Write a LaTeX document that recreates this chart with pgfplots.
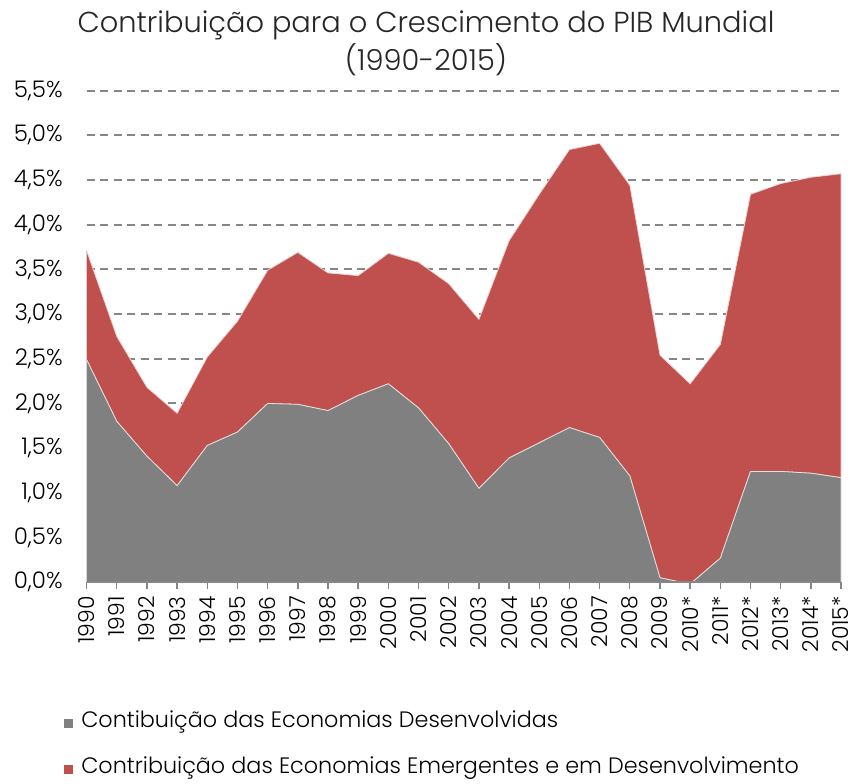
\documentclass[border=0pt]{standalone}
\usepackage{fontspec}
\IfFontExistsTF{Poppins Light}{\setmainfont{Poppins Light}}{\setmainfont{Poppins}}
\usepackage{pgfplots}
\pgfplotsset{compat=1.18}
\definecolor{devgray}{HTML}{808080}
\definecolor{emred}{HTML}{C0504D}
\definecolor{gridgray}{HTML}{868686}

% contribution (percentage points) by year
\pgfplotstableread{
year dev em
1990 2.49 1.22
1991 1.80 0.95
1992 1.41 0.77
1993 1.08 0.81
1994 1.53 0.99
1995 1.68 1.24
1996 2.00 1.49
1997 1.99 1.70
1998 1.92 1.54
1999 2.09 1.34
2000 2.22 1.46
2001 1.95 1.63
2002 1.55 1.79
2003 1.05 1.89
2004 1.39 2.43
2005 1.56 2.78
2006 1.73 3.11
2007 1.62 3.29
2008 1.19 3.25
2009 0.05 2.49
2010 -0.02 2.24
2011 0.27 2.39
2012 1.24 3.10
2013 1.24 3.22
2014 1.22 3.31
2015 1.17 3.40
}\gdp

\begin{document}
\begin{tikzpicture}
% background axis: only the dashed gridlines, so the areas drawn later cover them
\begin{axis}[
  scale only axis,
  width=379pt, height=247pt,
  xmin=1990, xmax=2015,
  ymin=0, ymax=5.5,
  xtick=\empty,
  ytick={0,0.5,...,5.5},
  yticklabels={},
  axis line style={draw=none},
  tick style={draw=none},
  ymajorgrids,
  grid style={draw=gridgray, line width=1pt, dash pattern=on 4pt off 2.8pt},
]
\end{axis}
\begin{axis}[
  name=ax,
  scale only axis,
  width=379pt, height=247pt,
  stack plots=y,
  xmin=1990, xmax=2015,
  ymin=0, ymax=5.5,
  enlarge x limits=false,
  xtick={1990,...,2015},
  xticklabels={1990,1991,1992,1993,1994,1995,1996,1997,1998,1999,2000,2001,2002,2003,2004,2005,2006,2007,2008,2009,2010*,2011*,2012*,2013*,2014*,2015*},
  x tick label style={rotate=90, anchor=east, font=\fontsize{11}{13}\selectfont},
  ytick={0,0.5,...,5.5},
  yticklabel={\pgfmathprintnumber[fixed,fixed zerofill,precision=1,use comma]{\tick}\%},
  y tick label style={font=\fontsize{11.5}{13}\selectfont, xshift=-5pt},
  /pgf/number format/assume math mode=true,
  axis x line*=bottom,
  axis y line*=left,
  x axis line style={draw=gridgray, line width=1pt, -},
  y axis line style={draw=none},
  tick align=outside,
  major tick length=3.5pt,
  xtick style={draw=gridgray, line width=0.7pt},
  ytick style={draw=none},
  legend style={at={(-0.030,-0.257)}, anchor=north west, draw=none, fill=none,
    font=\fontsize{11.2}{13}\selectfont, row sep=11pt, inner sep=0pt,
    nodes={inner sep=1pt}},
  legend cell align=left,
  legend image code/.code={\fill[#1,draw=none] (0pt,-3.5pt) rectangle (4.5pt,1pt);},
]
\addplot[mark=none, fill=devgray, draw=white!75!devgray, line width=0.4pt] table[x=year, y=dev] {\gdp} \closedcycle;
\addplot[mark=none, fill=emred, draw=white!75!emred, line width=0.4pt] table[x=year, y=em] {\gdp} \closedcycle;
\legend{\hspace{3pt}Contibuição das Economias Desenvolvidas, \hspace{3pt}Contribuição das Economias Emergentes e em Desenvolvimento}
\end{axis}
\draw[gridgray, line width=1pt] (ax.south west) -- (ax.south east);
\node[anchor=south, align=center, font=\fontsize{14.5}{19}\selectfont, text=black!85]
  at ([xshift=-19pt, yshift=4pt]ax.north) {Contribuição para o Crescimento do PIB Mundial\\(1990-2015)};
\pgfresetboundingbox
\path ([xshift=-43.5pt, yshift=-101pt]ax.south west) rectangle ([xshift=7pt, yshift=45.5pt]ax.north east);
\end{tikzpicture}
\end{document}
